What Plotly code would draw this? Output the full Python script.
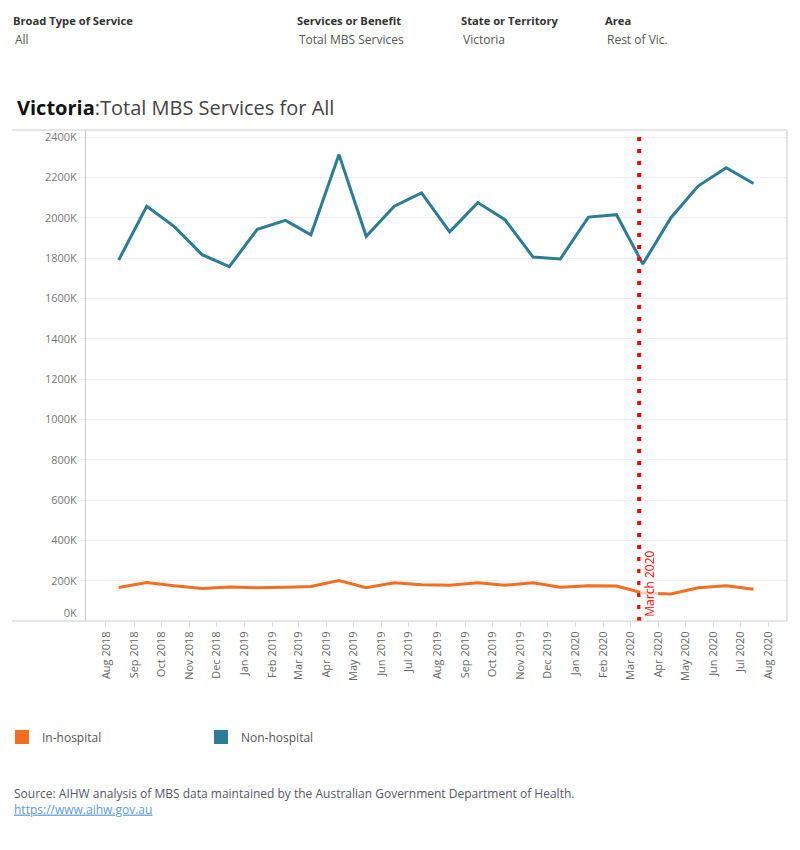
import plotly.graph_objects as go

months = ["2018-08", "2018-09", "2018-10", "2018-11", "2018-12",
          "2019-01", "2019-02", "2019-03", "2019-04", "2019-05", "2019-06",
          "2019-07", "2019-08", "2019-09", "2019-10", "2019-11", "2019-12",
          "2020-01", "2020-02", "2020-03", "2020-04", "2020-05", "2020-06",
          "2020-07"]
non_hospital = [1790000, 2057000, 1957000, 1817000, 1757000, 1943000,
                1987000, 1915000, 2313000, 1908000, 2057000, 2123000,
                1930000, 2075000, 1990000, 1805000, 1795000, 2003000,
                2015000, 1770000, 2000000, 2157000, 2248000, 2170000]
in_hospital = [166000, 191000, 175000, 161000, 168000, 165000,
               167000, 171000, 201000, 165000, 190000, 180000,
               177000, 190000, 177000, 190000, 167000, 175000,
               173000, 139000, 134000, 165000, 175000, 157000]
y_ticks = [200000, 400000, 600000, 800000, 1000000, 1200000, 1400000,
           1600000, 1800000, 2000000, 2200000, 2400000]
y_ticktext = ["200K", "400K", "600K", "800K", "1000K", "1200K", "1400K",
              "1600K", "1800K", "2000K", "2200K", "2400K"]
event_date = "2020-03-11"
event_label = "March 2020"

ORANGE = "#F26F21"
TEAL = "#2A7D94"
FONT = "Open Sans"

x_dates = [m + "-15" for m in months]

# pixel layout helpers
W, H = 800, 850
L, R, T, B = 86, 787, 130, 621


def px(xp):
    return (xp - L) / (R - L)


def py(yp):
    return (B - yp) / (B - T)


fig = go.Figure()
fig.add_trace(go.Scatter(x=x_dates, y=in_hospital, mode="lines",
                         line=dict(color=ORANGE, width=3), showlegend=False,
                         name="In-hospital"))
fig.add_trace(go.Scatter(x=x_dates, y=non_hospital, mode="lines",
                         line=dict(color=TEAL, width=3), showlegend=False,
                         name="Non-hospital"))
# legend-only swatches
fig.add_trace(go.Scatter(x=[None], y=[None], mode="markers", name="In-hospital",
                         marker=dict(symbol="square", size=14, color=ORANGE)))
fig.add_trace(go.Scatter(x=[None], y=[None], mode="markers", name="Non-hospital",
                         marker=dict(symbol="square", size=14, color=TEAL)))
# dummy trace for second y axis (0K label)
fig.add_trace(go.Scatter(x=[None], y=[None], yaxis="y2", showlegend=False))

fig.add_shape(type="line", xref="x", yref="paper", x0=event_date, x1=event_date,
              y0=0, y1=1, line=dict(color="#FF0000", width=4, dash="4px,8px"))
fig.add_annotation(x=event_date, y=0, xref="x", yref="paper", text=event_label,
                   textangle=-90, xanchor="left", yanchor="bottom", showarrow=False,
                   xshift=0, yshift=3, font=dict(family=FONT, size=12, color="#FF0000"),
                   bgcolor="rgba(255,255,255,0.7)", borderpad=0)

frame = "#CCCCCC"
fig.add_shape(type="line", xref="paper", yref="paper", x0=px(12), x1=1, y0=1, y1=1,
              line=dict(color=frame, width=1))
fig.add_shape(type="line", xref="paper", yref="paper", x0=px(12), x1=1, y0=0, y1=0,
              line=dict(color=frame, width=1))
fig.add_shape(type="line", xref="paper", yref="paper", x0=1, x1=1, y0=0, y1=1,
              line=dict(color=frame, width=1))

# header filters
headers = [(12, "Broad Type of Service", "All"),
           (296, "Services or Benefit", "Total MBS Services"),
           (460, "State or Territory", "Victoria"),
           (604, "Area", "Rest of Vic.")]
for xh, lab, val in headers:
    fig.add_annotation(x=px(xh - 1), y=py(21), xref="paper", yref="paper",
                       text="<b>" + lab + "</b>",
                       xanchor="left", yanchor="middle", showarrow=False,
                       font=dict(family=FONT, size=11.2, color="#333333"))
    fig.add_annotation(x=px(xh + 1), y=py(39), xref="paper", yref="paper", text=val,
                       xanchor="left", yanchor="middle", showarrow=False,
                       font=dict(family=FONT, size=12, color="#555555"))

# title
fig.add_annotation(x=px(15), y=py(107), xref="paper", yref="paper",
                   text="<span style='color:#111111'><b>Victoria</b></span>:Total MBS Services for All",
                   xanchor="left", yanchor="middle", showarrow=False,
                   font=dict(family=FONT, size=20, color="#444444"))

# source + link
fig.add_annotation(x=px(12), y=py(801), xref="paper", yref="paper",
                   text="Source: AIHW analysis of MBS data maintained by the Australian Government Department of Health.<br>"
                        "<a href='https://www.aihw.gov.au' style='color:#5B9BD5'><u>https://www.aihw.gov.au</u></a>",
                   xanchor="left", yanchor="middle", showarrow=False, align="left",
                   font=dict(family=FONT, size=12, color="#555566"))

fig.update_layout(
    width=W, height=H,
    margin=dict(l=L, r=W - R, t=T, b=H - B, autoexpand=False),
    paper_bgcolor="white", plot_bgcolor="white",
    font=dict(family=FONT, size=11, color="#666666"),
    showlegend=True,
    legend=dict(orientation="h", xref="container", yref="container",
                x=2 / W, y=1 - 737 / H, xanchor="left", yanchor="middle",
                entrywidth=154, entrywidthmode="pixels",
                font=dict(family=FONT, size=12, color="#555555"),
                bgcolor="rgba(0,0,0,0)"),
    xaxis=dict(type="date", range=["2018-07-10", "2020-08-21"],
               tick0="2018-08-01", dtick="M1", tickformat="%b %Y", tickangle=-90,
               showgrid=False, zeroline=False, showline=False,
               ticks="outside", ticklen=5, tickcolor="#E0E0E0",
               tickfont=dict(family=FONT, size=11, color="#666666")),
    yaxis=dict(range=[0, 2435000], tickvals=y_ticks, ticktext=y_ticktext,
               showgrid=True, gridcolor="#F0F0F0", gridwidth=1, zeroline=False,
               showline=True, linecolor=frame, linewidth=1,
               ticks="outside", ticklen=6, tickcolor="#F0F0F0",
               tickfont=dict(family=FONT, size=11, color="#777777")),
    yaxis2=dict(range=[0, 2435000], overlaying="y", side="left", anchor="x",
                tickvals=[0], ticktext=["0K"], ticklabelshift=-8,
                showgrid=False, zeroline=False, showline=False,
                ticks="outside", ticklen=6, tickcolor="rgba(0,0,0,0)",
                tickfont=dict(family=FONT, size=11, color="#777777")),
)

fig.write_html("out.html")
